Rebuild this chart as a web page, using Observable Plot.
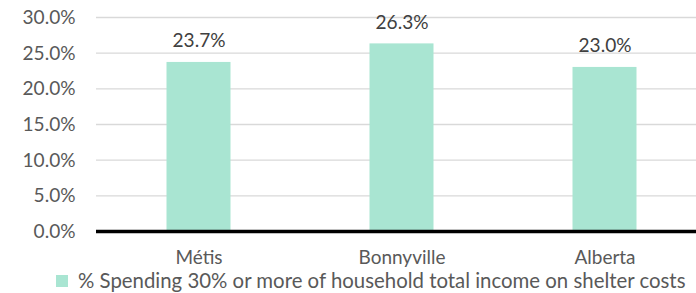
<!DOCTYPE html>
<html>
<head>
<meta charset="utf-8">
<script src="https://cdn.jsdelivr.net/npm/d3@7"></script>
<script src="https://cdn.jsdelivr.net/npm/@observablehq/plot@0.6"></script>
<style>
  html, body { margin: 0; padding: 0; background: #fff; }
  body { position: relative; width: 696px; height: 293px; overflow: hidden; font-family: Lato, "Open Sans", sans-serif; }
  #chart svg { display: block; }
  .sw { position: absolute; width: 12px; height: 12px; background: #a9e5d2; left: 56px; top: 275px; }
  .lb { position: absolute; left: 78px; color: #595959; white-space: nowrap; }
</style>
</head>
<body>
<div id="chart"></div>
<span class="sw"></span><span class="lb" id="lg"></span>
<script>
const categories = ["Métis", "Bonnyville", "Alberta"];
const values = [0.237, 0.263, 0.230];
const yTicks = [0, 0.05, 0.10, 0.15, 0.20, 0.25, 0.30];
const seriesName = "% Spending 30% or more of household total income on shelter costs";

const data = categories.map((c, i) => ({category: c, value: values[i]}));
const fmt = d3.format(".1%");
const FONT = "Lato";

// fit font sizes to the reference text widths
const ctx = document.createElement("canvas").getContext("2d");
function fit(text, target) {
  ctx.font = `100px ${FONT}`;
  return 100 * target / ctx.measureText(text).width;
}
const fsTick = fit("30.0%", 53);
const fsCat = fit("Bonnyville", 87);
const fsLab = fit("23.7%", 53);
const fsLeg = fit(seriesName, 609);

const chart = Plot.plot({
  width: 696,
  height: 270,
  marginTop: 17,
  marginBottom: 39,
  marginLeft: 96,
  marginRight: 0,
  style: {fontFamily: `${FONT}, 'Open Sans', sans-serif`, fontSize: fsTick + "px", color: "#595959", background: "#fff"},
  x: {domain: categories, range: [96.5, 705.5], padding: 0, label: null},
  y: {domain: [0, 0.3], label: null},
  marks: [
    Plot.gridY(yTicks, {stroke: "#d9d9d9", strokeOpacity: 1, strokeWidth: 1.3}),
    Plot.axisY(yTicks, {tickFormat: fmt, tickSize: 0, tickPadding: 21, label: null, fill: "#595959", fontSize: fsTick, dy: 0.5}),
    Plot.axisX({tickSize: 0, tickPadding: 19.5, label: null, fill: "#595959", fontSize: fsCat}),
    Plot.barY(data, {x: "category", y: "value", fill: "#a9e5d2", insetLeft: 69.5, insetRight: 69.5}),
    Plot.text(data, {x: "category", y: "value", text: d => fmt(d.value), lineAnchor: "middle", dy: -(15 + 0.32 * fsLab), fill: "#404040", fontSize: fsLab}),
    Plot.ruleY([0], {stroke: "#000", strokeWidth: 3.5})
  ]
});
document.getElementById("chart").appendChild(chart);
const lg = document.getElementById("lg");
lg.textContent = seriesName;
const L = 14;
lg.style.fontSize = fsLeg + "px";
lg.style.lineHeight = L + "px";
lg.style.top = (287.5 - L / 2 - 0.387 * fsLeg) + "px";
</script>
</body>
</html>
